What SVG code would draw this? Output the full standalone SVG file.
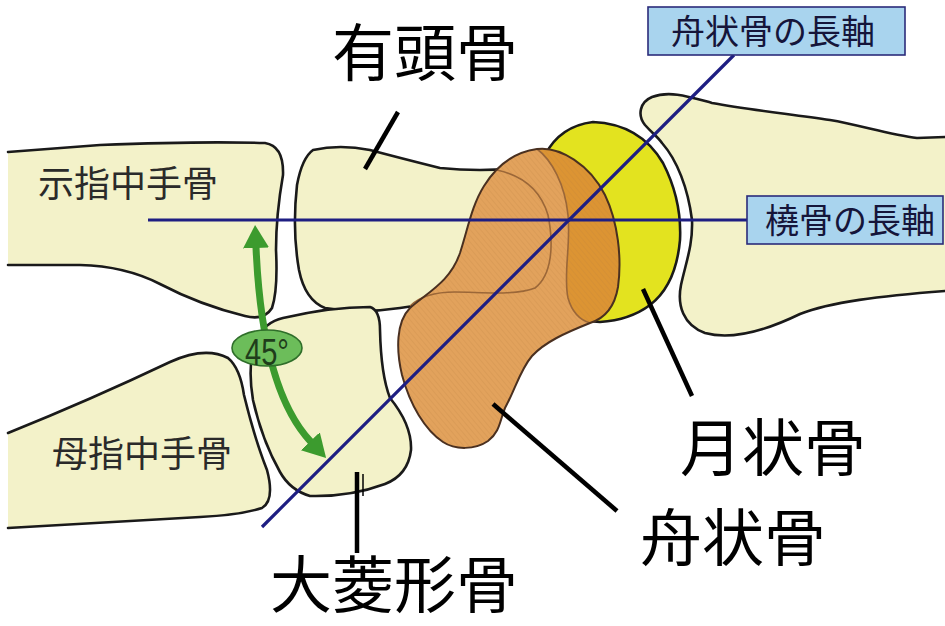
<svg xmlns="http://www.w3.org/2000/svg" width="945" height="626" viewBox="0 0 945 626">
  <style>
    .bone { fill: #f3f2c9; stroke: none; }
    .edge { fill: none; stroke: #1a1a1a; stroke-width: 2.6; stroke-linejoin: round; stroke-linecap: round; }
    .axis { fill: none; stroke: #1e1e82; stroke-width: 3.2; }
    .lead { fill: none; stroke: #000; stroke-width: 4.5; stroke-linecap: butt; }
    .inner { fill: none; stroke: #9b6738; stroke-width: 1.6; }
    .big { font-family: "Noto Sans CJK JP", "Noto Sans CJK SC", sans-serif; font-size: 62px; fill: #000; }
    .small { font-family: "Noto Sans CJK JP", "Noto Sans CJK SC", sans-serif; font-size: 36px; fill: #2a2a2a; }
    .boxtxt { font-family: "Noto Sans CJK JP", "Noto Sans CJK SC", sans-serif; font-size: 34px; fill: #15153a; }
    .box { fill: #a9d4ee; stroke: #2b2b7a; stroke-width: 1.6; }
  </style>
  <defs>
    <pattern id="hatch" width="4" height="4" patternUnits="userSpaceOnUse" patternTransform="rotate(-40)">
      <line x1="0" y1="0" x2="0" y2="4" stroke="#b87a3c" stroke-width="1" stroke-opacity="0.35"/>
    </pattern>
    <marker id="ghead" viewBox="0 -14 24 28" refX="1" refY="0" markerUnits="userSpaceOnUse" markerWidth="24" markerHeight="28" orient="auto-start-reverse">
      <path d="M0,-13 L23,0 L0,13 Z" fill="#3c9b2e"/>
    </marker>
  </defs>

  <rect width="945" height="626" fill="#ffffff"/>

  <g id="index-metacarpal">
    <path class="bone" d="M 8,152 L 100,145 Q 200,141 265,143 Q 284,146 283,175 Q 276,215 276,250 Q 278,290 272,308 Q 264,321 245,316 Q 200,305 160,284 Q 125,266 80,265 L 8,265 Z"/>
    <path class="edge" d="M 8,152 L 100,145 Q 200,141 265,143 Q 284,146 283,175 Q 276,215 276,250 Q 278,290 272,308 Q 264,321 245,316 Q 200,305 160,284 Q 125,266 80,265 L 8,265"/>
    <text class="small" x="38" y="197">示指中手骨</text>
  </g>

  <g id="thumb-metacarpal">
    <path class="bone" d="M 8,433 Q 90,400 170,362 Q 205,346 228,358 Q 240,368 244,395 Q 255,440 267,470 Q 275,500 262,508 Q 240,515 200,517 L 8,528 Z"/>
    <path class="edge" d="M 8,433 Q 90,400 170,362 Q 205,346 228,358 Q 240,368 244,395 Q 255,440 267,470 Q 275,500 262,508 Q 240,515 200,517 L 8,528"/>
    <text class="small" x="52" y="467">母指中手骨</text>
  </g>

  <g id="capitate">
    <path class="bone" d="M 313,150 Q 340,144 370,150 Q 400,158 440,168 Q 480,172 520,168 L 520,300 Q 450,300 400,308 Q 360,314 325,308 Q 305,300 299,270 Q 292,230 297,185 Q 302,158 313,150 Z"/>
    <path class="edge" d="M 313,150 Q 340,144 370,150 Q 400,158 440,168 Q 480,172 520,168 L 520,300 Q 450,300 400,308 Q 360,314 325,308 Q 305,300 299,270 Q 292,230 297,185 Q 302,158 313,150 Z"/>
  </g>

  <g id="trapezium">
    <path class="bone" d="M 283,318 Q 330,307 370,307 Q 380,310 380,330 Q 381,375 390,398 Q 412,425 411,450 Q 408,475 385,484 Q 350,497 310,496 Q 290,490 280,472 Q 262,440 253,400 Q 247,365 256,340 Q 265,322 283,318 Z"/>
    <path class="edge" d="M 283,318 Q 330,307 370,307 Q 380,310 380,330 Q 381,375 390,398 Q 412,425 411,450 Q 408,475 385,484 Q 350,497 310,496 Q 290,490 280,472 Q 262,440 253,400 Q 247,365 256,340 Q 265,322 283,318 Z"/>
  </g>

  <g id="lunate">
    <path d="M 545,155 Q 560,126 593,122 Q 640,124 663,163 Q 682,200 680,240 Q 676,285 650,305 Q 630,320 600,322 L 575,320 L 545,200 Z" fill="#e3e31f" stroke="#1a1a1a" stroke-width="2.6" stroke-linejoin="round"/>
  </g>

  <g id="radius">
    <path class="bone" d="M 945,137 L 917,138 C 890,135 860,125 830,120 C 790,114 750,110 712,103 C 690,97 670,90 652,97 C 640,102 637,115 645,125 C 652,133 658,137 662,143 C 677,160 688,188 692,220 C 693,245 686,262 681,285 C 677,305 683,325 705,333 C 730,340 765,331 800,314 C 830,302 880,296 945,291 Z"/>
    <path class="edge" d="M 945,137 L 917,138 C 890,135 860,125 830,120 C 790,114 750,110 712,103 C 690,97 670,90 652,97 C 640,102 637,115 645,125 C 652,133 658,137 662,143 C 677,160 688,188 692,220 C 693,245 686,262 681,285 C 677,305 683,325 705,333 C 730,340 765,331 800,314 C 830,302 880,296 945,291"/>
  </g>

  <g id="scaphoid">
    <path d="M 537,149 C 560,146 590,165 605,195 C 618,222 622,258 618,287 C 615,305 606,318 590,323 C 565,333 545,342 532,356 C 520,370 515,390 505,408 C 500,420 500,432 488,441 C 475,450 455,450 443,442 C 425,430 410,405 402,375 C 396,350 396,322 410,308 C 428,292 450,282 460,253 C 468,228 472,205 484,186 C 497,165 515,152 537,149 Z" fill="#e2a25c"/>
    <path d="M 537,149 C 552,160 565,185 568,215 C 571,245 563,275 568,298 C 572,312 580,320 590,323 C 606,318 615,305 618,287 C 622,258 618,222 605,195 C 590,165 560,146 537,149 Z" fill="#dc9433"/>
    <path d="M 537,149 C 560,146 590,165 605,195 C 618,222 622,258 618,287 C 615,305 606,318 590,323 C 565,333 545,342 532,356 C 520,370 515,390 505,408 C 500,420 500,432 488,441 C 475,450 455,450 443,442 C 425,430 410,405 402,375 C 396,350 396,322 410,308 C 428,292 450,282 460,253 C 468,228 472,205 484,186 C 497,165 515,152 537,149 Z" fill="url(#hatch)"/>
    <path class="inner" d="M 537,149 C 552,160 565,185 568,215 C 571,245 563,275 568,298 C 572,312 580,320 590,323"/>
    <path class="inner" d="M 497,170 C 520,175 540,188 548,215 C 554,245 552,275 535,288 C 515,296 480,292 455,292 C 435,292 420,296 410,306"/>
    <path d="M 537,149 C 560,146 590,165 605,195 C 618,222 622,258 618,287 C 615,305 606,318 590,323 C 565,333 545,342 532,356 C 520,370 515,390 505,408 C 500,420 500,432 488,441 C 475,450 455,450 443,442 C 425,430 410,405 402,375 C 396,350 396,322 410,308 C 428,292 450,282 460,253 C 468,228 472,205 484,186 C 497,165 515,152 537,149 Z" fill="none" stroke="#4a3020" stroke-width="2"/>
  </g>

  <g id="axes">
    <line class="axis" x1="148" y1="220" x2="747" y2="220"/>
    <line class="axis" x1="262" y1="527" x2="734" y2="55"/>
  </g>

  <g id="angle">
    <path d="M 256,247 Q 262,390 311,442" fill="none" stroke="#3c9b2e" stroke-width="7" marker-start="url(#ghead)" marker-end="url(#ghead)"/>
    <ellipse cx="267" cy="348" rx="35" ry="18" fill="#6cbd5a" stroke="#2f6e2a" stroke-width="1.6"/>
    <text x="267" y="365" font-family="Liberation Sans, Arial, sans-serif" font-size="36" fill="#1f3d1a" text-anchor="middle" textLength="44" lengthAdjust="spacingAndGlyphs">45°</text>
  </g>

  <g id="leaders">
    <line class="lead" x1="398" y1="112" x2="365" y2="169"/>
    <line class="lead" x1="643" y1="289" x2="692" y2="396"/>
    <line class="lead" x1="493" y1="404" x2="617" y2="511"/>
    <line class="lead" x1="357" y1="472" x2="357" y2="553"/>
    <line x1="363" y1="474" x2="363" y2="496" stroke="#000" stroke-width="1.5"/>
  </g>

  <g id="label-scaphoid-axis">
    <rect class="box" x="648" y="7" width="257" height="48"/>
    <text class="boxtxt" x="671" y="44">舟状骨の長軸</text>
  </g>
  <g id="label-radius-axis">
    <rect class="box" x="747" y="196" width="196" height="48"/>
    <text class="boxtxt" x="765" y="233">橈骨の長軸</text>
  </g>

  <g id="labels">
    <text class="big" x="332" y="76">有頭骨</text>
    <text class="big" x="680" y="471">月状骨</text>
    <text class="big" x="640" y="561">舟状骨</text>
    <text class="big" x="270" y="608" font-size="60">大菱形骨</text>
  </g>
</svg>
